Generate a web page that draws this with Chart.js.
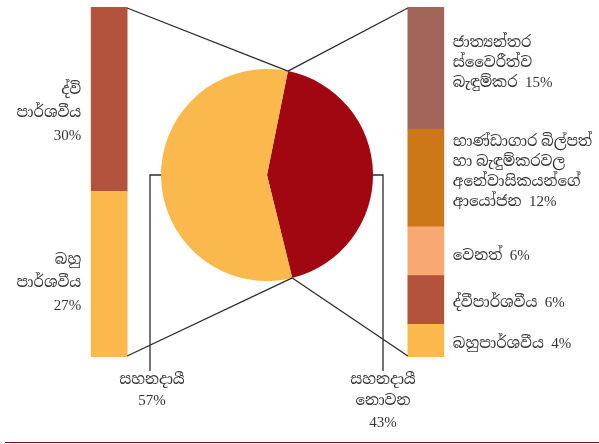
<!DOCTYPE html>
<html>
<head>
<meta charset="utf-8">
<script src="https://cdn.jsdelivr.net/npm/chart.js@4.4.1/dist/chart.umd.min.js"></script>
<style>
  html, body { margin:0; padding:0; background:#ffffff; }
  #wrap { position:relative; width:599px; height:444px; overflow:hidden; background:#fff; }
  #pieBox { position:absolute; left:161px; top:69px; width:212px; height:212px; }
  #barBox { position:absolute; left:0; top:0; width:599px; height:444px; pointer-events:none; }
  #rule { position:absolute; left:5px; right:0; top:442px; height:0; border-top:1.5px solid #7E1014; }
</style>
</head>
<body>
<div id="wrap">
  <div id="pieBox"><canvas id="pie"></canvas></div>
  <div id="barBox"><canvas id="bars"></canvas></div>
  <div id="rule"></div>
</div>
<script>
// ---- data ----
const pieLabels = ['සහනදායී නොවන', 'සහනදායී'];
const pieValues = [43, 57];
const pieColors = ['#A10711', '#FBB84C'];

const leftSeries = ['බහු පාර්ශවීය', 'ද්වි පාර්ශවීය'];
const leftValues = [27, 30];
const leftColors = ['#FBB84C', '#B3533B'];

const rightSeries = ['බහුපාර්ශවීය', 'ද්වීපාර්ශවීය', 'වෙනත්',
  'භාණ්ඩාගාර බිල්පත් හා බැඳුම්කරවල අනේවාසිකයන්ගේ ආයෝජන',
  'ජාත්‍යන්තර ස්වෛරීත්ව බැඳුම්කර'];
const rightValues = [4, 6, 6, 12, 15];
const rightColors = ['#FBB84C', '#B3533B', '#F8A872', '#CD7818', '#A1655A'];

// label lines (text only)
const leftLabelLines = [['බහු', 'පාර්ශවීය', '27%'], ['ද්වි', 'පාර්ශවීය', '30%']];
const rightLabelLines = [['බහුපාර්ශවීය  4%'], ['ද්වීපාර්ශවීය  6%'], ['වෙනත්  6%'],
  ['භාණ්ඩාගාර බිල්පත්', 'හා බැඳුම්කරවල', 'අනේවාසිකයන්ගේ', 'ආයෝජන  12%'],
  ['ජාත්‍යන්තර', 'ස්වෛරීත්ව', 'බැඳුම්කර  15%']];
const pieLabelLines = [['සහනදායී', 'නොවන', '43%'], ['සහනදායී', '57%']];

// ---- layout (not data) ----
const FONT = '15px "Liberation Serif", "Noto Serif Sinhala", "Noto Sans Sinhala", serif';
const TEXT = '#333333';
const LINE = '#2b2b2b';
const leftLabelOffset = [9, 14];      // vertical offset of label block vs segment centre
const rightLabelOffset = [3, 3, 5, -6, -5];
const leftLH = 23, rightLH = 20, bottomLH = 21.5;

// ---- pie ----
const pieChart = new Chart(document.getElementById('pie'), {
  type: 'pie',
  data: { labels: pieLabels, datasets: [{ data: pieValues, backgroundColor: pieColors, borderWidth: 0 }] },
  options: {
    responsive: true, maintainAspectRatio: false, animation: false,
    rotation: 11.4,
    layout: { padding: 0 },
    plugins: { legend: { display: false }, tooltip: { enabled: false } }
  }
});

// ---- bars ----
const datasets = [];
leftValues.forEach((v, i) => datasets.push({
  label: leftSeries[i], data: [v, null, null], backgroundColor: leftColors[i],
  yAxisID: 'yL', barThickness: 36, borderWidth: 0, skipNull: true
}));
rightValues.forEach((v, i) => datasets.push({
  label: rightSeries[i], data: [null, null, v], backgroundColor: rightColors[i],
  yAxisID: 'yR', barThickness: 36, borderWidth: 0, skipNull: true
}));

function drawLines(ctx, lines, x, yCenter, lh, align) {
  ctx.textAlign = align;
  const n = lines.length;
  lines.forEach((t, k) => {
    ctx.fillText(t, x, yCenter + (k - (n - 1) / 2) * lh);
  });
}

const overlay = {
  id: 'overlay',
  afterDraw(chart) {
    const ctx = chart.ctx;
    const nL = leftValues.length;
    const lTop = chart.getDatasetMeta(nL - 1).data[0];
    const lBot = chart.getDatasetMeta(0).data[0];
    const rTop = chart.getDatasetMeta(datasets.length - 1).data[2];
    const rBot = chart.getDatasetMeta(nL).data[2];

    const pc = pieChart.canvas.parentNode;
    const ox = pc.offsetLeft, oy = pc.offsetTop;
    const arc = pieChart.getDatasetMeta(0).data[0];
    const cx = arc.x + ox, cy = arc.y + oy, r = arc.outerRadius;
    const pTop = [cx + r * Math.cos(arc.startAngle), cy + r * Math.sin(arc.startAngle)];
    const pBot = [cx + r * Math.cos(arc.endAngle), cy + r * Math.sin(arc.endAngle)];

    ctx.save();
    ctx.strokeStyle = LINE;
    ctx.lineWidth = 1.3;
    ctx.beginPath();
    ctx.moveTo(lTop.x + lTop.width / 2, lTop.y + 1); ctx.lineTo(pTop[0], pTop[1]);
    ctx.moveTo(rTop.x - rTop.width / 2, rTop.y + 1); ctx.lineTo(pTop[0], pTop[1]);
    ctx.moveTo(lBot.x + lBot.width / 2, lBot.base - 1); ctx.lineTo(pBot[0], pBot[1]);
    ctx.moveTo(rBot.x - rBot.width / 2, rBot.base - 1); ctx.lineTo(pBot[0], pBot[1]);
    // leader lines from pie sides
    const legBottom = 371;
    ctx.moveTo(cx - r, cy); ctx.lineTo(cx - r - 11, cy); ctx.lineTo(cx - r - 11, legBottom);
    ctx.moveTo(cx + r, cy); ctx.lineTo(cx + r + 10, cy); ctx.lineTo(cx + r + 10, legBottom);
    ctx.stroke();

    ctx.fillStyle = TEXT;
    ctx.font = FONT;
    ctx.textBaseline = 'middle';
    // left labels
    for (let i = 0; i < nL; i++) {
      const el = chart.getDatasetMeta(i).data[0];
      const yc = (el.y + el.base) / 2 + leftLabelOffset[i];
      drawLines(ctx, leftLabelLines[i], el.x - el.width / 2 - 10, yc, leftLH, 'right');
    }
    // right labels
    for (let i = 0; i < rightValues.length; i++) {
      const el = chart.getDatasetMeta(nL + i).data[2];
      const yc = (el.y + el.base) / 2 + rightLabelOffset[i];
      drawLines(ctx, rightLabelLines[i], el.x + el.width / 2 + 9, yc, rightLH, 'left');
    }
    // pie labels
    ctx.textAlign = 'center';
    const lx = cx - r - 11, rx = cx + r + 10;
    pieLabelLines[1].forEach((t, k) => ctx.fillText(t, lx + 2, 380 + k * bottomLH));
    pieLabelLines[0].forEach((t, k) => ctx.fillText(t, rx, 380 + k * bottomLH));
    ctx.restore();
  }
};

new Chart(document.getElementById('bars'), {
  type: 'bar',
  data: { labels: ['L', 'C', 'R'], datasets },
  options: {
    responsive: true, maintainAspectRatio: false, animation: false,
    layout: { padding: { left: 30, right: 94, top: 7, bottom: 87 } },
    scales: {
      x: { type: 'category', stacked: true, display: false, offset: true, grid: { display: false } },
      yL: { type: 'linear', stacked: true, min: 0, max: leftValues.reduce((a, b) => a + b, 0), display: false },
      yR: { type: 'linear', stacked: true, min: 0, max: rightValues.reduce((a, b) => a + b, 0), display: false, position: 'right' }
    },
    plugins: { legend: { display: false }, tooltip: { enabled: false } }
  },
  plugins: [overlay]
});
</script>
</body>
</html>
